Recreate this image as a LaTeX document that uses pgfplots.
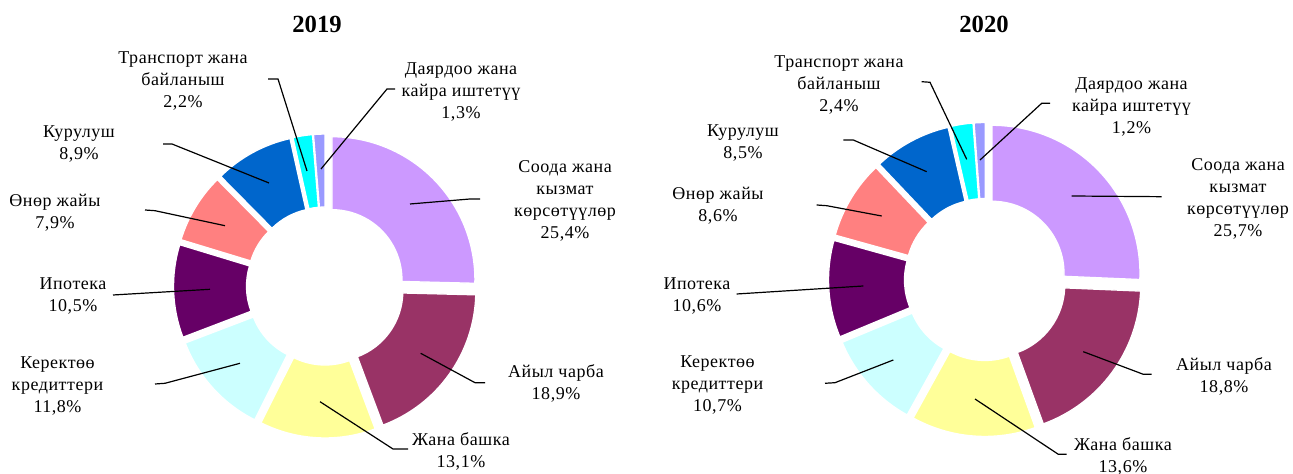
\documentclass[border=0pt]{standalone}
\usepackage{pgfplots}
\pgfplotsset{compat=1.18}
\usepackage{fontspec}
\setmainfont{Liberation Serif}
\newfontfamily\labfont[LetterSpace=3]{Liberation Serif}

\definecolor{cSooda}{HTML}{CC99FF}
\definecolor{cAyil}{HTML}{993366}
\definecolor{cJana}{HTML}{FFFF99}
\definecolor{cKer}{HTML}{CCFFFF}
\definecolor{cIpo}{HTML}{660066}
\definecolor{cOnor}{HTML}{FF8080}
\definecolor{cKur}{HTML}{0066CC}
\definecolor{cTrans}{HTML}{00FFFF}
\definecolor{cDay}{HTML}{9999FF}

% shares in %, clockwise from 12 o'clock
\def\dataA{25.4/cSooda,18.9/cAyil,13.1/cJana,11.8/cKer,10.5/cIpo,7.9/cOnor,8.9/cKur,2.2/cTrans,1.3/cDay}
\def\dataB{25.7/cSooda,18.8/cAyil,13.6/cJana,10.7/cKer,10.6/cIpo,8.6/cOnor,8.5/cKur,2.4/cTrans,1.2/cDay}

% #1 data, #2 cx, #3 cy, #4 outer r, #5 inner r (axis units = px)
\newcommand\donut[5]{%
  \gdef\tot{0}%
  \foreach \v/\c in #1 {\pgfmathsetmacro\t{\tot+\v}\global\let\tot\t}%
  \gdef\acc{90}%
  \foreach \v/\c in #1 {%
    \pgfmathsetmacro\aA{\acc}%
    \pgfmathsetmacro\aB{\acc-360*\v/\tot}%
    \pgfmathsetmacro\am{(\aA+\aB)/2}%
    \pgfmathsetmacro\ox{#2+9*cos(\am)}%
    \pgfmathsetmacro\oy{#3+9*sin(\am)}%
    \pgfmathsetmacro\xA{\ox+#4*cos(\aA)}%
    \pgfmathsetmacro\yA{\oy+#4*sin(\aA)}%
    \pgfmathsetmacro\xB{\ox+#5*cos(\aB)}%
    \pgfmathsetmacro\yB{\oy+#5*sin(\aB)}%
    \edef\slice{\noexpand\fill[\c,draw=white,line width=1pt]
      (axis cs:\xA,\yA) arc[start angle=\aA,end angle=\aB,radius=#4*0.75pt]
      -- (axis cs:\xB,\yB) arc[start angle=\aB,end angle=\aA,radius=#5*0.75pt] -- cycle;}%
    \slice
    \global\let\acc\aB
  }%
}

\tikzset{lab/.style={align=center,inner sep=0pt,font=\labfont\fontsize{13.5}{16.5}\selectfont},
         lead/.style={line width=0.9pt}}

\begin{document}
\begin{tikzpicture}
\begin{axis}[
    scale only axis,
    width=969.75pt, height=355.5pt,
    xmin=0, xmax=1293, ymin=0, ymax=474,
    hide axis, clip=false,
]
\donut{\dataA}{325.5}{188}{143}{70}
\donut{\dataB}{985.5}{194.5}{148}{72}

\node[inner sep=0pt,font=\fontsize{18.5}{22}\selectfont\bfseries] at (axis cs:317,450) {2019};
\node[inner sep=0pt,font=\fontsize{18.5}{22}\selectfont\bfseries] at (axis cs:984,450) {2020};

% 2019 leaders
\draw[lead] (axis cs:268,395) -- (axis cs:278,395) -- (axis cs:307,303);
\draw[lead] (axis cs:163,330) -- (axis cs:172,330) -- (axis cs:269,291);
\draw[lead] (axis cs:395,385) -- (axis cs:387,385) -- (axis cs:321,305);
\draw[lead] (axis cs:480,275) -- (axis cs:470,275) -- (axis cs:410,270);
\draw[lead] (axis cs:145,264) -- (axis cs:155,263.3) -- (axis cs:225,248.3);
\draw[lead] (axis cs:113,179) -- (axis cs:210,184.7);
\draw[lead] (axis cs:155,90) -- (axis cs:165,90.7) -- (axis cs:240,110.7);
\draw[lead] (axis cs:485,91.3) -- (axis cs:475,91.3) -- (axis cs:420.7,120.7);
\draw[lead] (axis cs:408,25) -- (axis cs:393,25) -- (axis cs:320,72.3);

% 2020 leaders
\draw[lead] (axis cs:921.7,392.3) -- (axis cs:930,391.7) -- (axis cs:966.7,314.7);
\draw[lead] (axis cs:843.3,334) -- (axis cs:853.3,334) -- (axis cs:926.7,302.3);
\draw[lead] (axis cs:816.7,269) -- (axis cs:826.7,268.3) -- (axis cs:881.7,258);
\draw[lead] (axis cs:1050,370.7) -- (axis cs:1041.7,370.7) -- (axis cs:980,314);
\draw[lead] (axis cs:1161.7,277.3) -- (axis cs:1071.7,278);
\draw[lead] (axis cs:736.7,180) -- (axis cs:863.3,188);
\draw[lead] (axis cs:825,90.7) -- (axis cs:835,91.3) -- (axis cs:893.3,114);
\draw[lead] (axis cs:1151.7,99.7) -- (axis cs:1143.3,99.7) -- (axis cs:1083.3,122.3);
\draw[lead] (axis cs:1066.7,19.7) -- (axis cs:1058.3,19.7) -- (axis cs:975,75);

% 2019 labels
\node[lab] at (axis cs:183,393) {Транспорт жана\\байланыш\\2,2\%};
\node[lab] at (axis cs:79,330) {Курулуш\\8,9\%};
\node[lab] at (axis cs:461,382) {Даярдоо жана\\кайра иштетүү\\1,3\%};
\node[lab] at (axis cs:565,273) {Соода жана\\кызмат\\көрсөтүүлөр\\25,4\%};
\node[lab] at (axis cs:55,261) {Өнөр жайы\\7,9\%};
\node[lab] at (axis cs:73,178) {Ипотека\\10,5\%};
\node[lab] at (axis cs:57.5,88) {Керектөө\\кредиттери\\11,8\%};
\node[lab] at (axis cs:556,91) {Айыл чарба\\18,9\%};
\node[lab] at (axis cs:461,23) {Жана башка\\13,1\%};

% 2020 labels
\node[lab] at (axis cs:839,389) {Транспорт жана\\байланыш\\2,4\%};
\node[lab] at (axis cs:743,331.5) {Курулуш\\8,5\%};
\node[lab] at (axis cs:718,268) {Өнөр жайы\\8,6\%};
\node[lab] at (axis cs:1131.5,367.3) {Даярдоо жана\\кайра иштетүү\\1,2\%};
\node[lab] at (axis cs:1238,275) {Соода жана\\кызмат\\көрсөтүүлөр\\25,7\%};
\node[lab] at (axis cs:697,178.5) {Ипотека\\10,6\%};
\node[lab] at (axis cs:717.5,89) {Керектөө\\кредиттери\\10,7\%};
\node[lab] at (axis cs:1224,98) {Айыл чарба\\18,8\%};
\node[lab] at (axis cs:1123,18) {Жана башка\\13,6\%};
\end{axis}
\pgfresetboundingbox
\path[use as bounding box] (current axis.south west) rectangle (current axis.north east);
\end{tikzpicture}
\end{document}
